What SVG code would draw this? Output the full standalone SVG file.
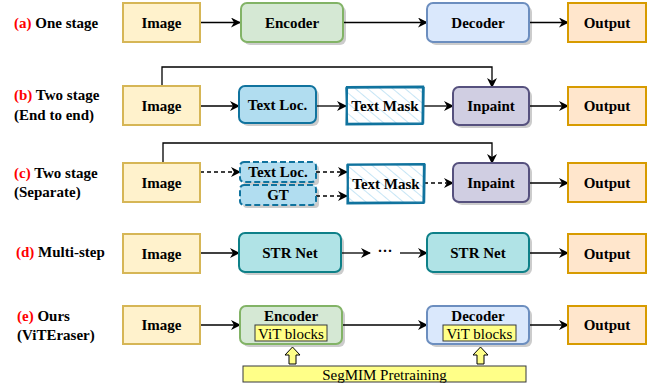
<svg xmlns="http://www.w3.org/2000/svg" width="653" height="385" viewBox="0 0 653 385">
<defs>
<marker id="arr" viewBox="0 0 10 10" refX="9" refY="5" markerWidth="10" markerHeight="10" markerUnits="userSpaceOnUse" orient="auto">
<path d="M0,0 L10,5 L0,10 L3,5 z" fill="#000"/>
</marker>
<pattern id="hatch" patternUnits="userSpaceOnUse" width="8" height="8" patternTransform="rotate(-50)">
<line x1="0" y1="0" x2="0" y2="8" stroke="#9fd3ee" stroke-width="1.2"/>
</pattern>
</defs>
<style>
.t{font-family:"Liberation Serif","Times New Roman",serif;font-size:15px;font-weight:bold;fill:#000;text-anchor:middle}
.n{font-family:"Liberation Serif","Times New Roman",serif;font-size:15px;fill:#000;text-anchor:middle}
.l{font-family:"Liberation Serif","Times New Roman",serif;font-size:15px;font-weight:bold;fill:#000}
.r{fill:#ff0000}
.sh{fill:#000;opacity:0.2}
.img{fill:#fff2cc;stroke:#d6b656;stroke-width:2}
.out{fill:#ffe6cc;stroke:#d79b00;stroke-width:2}
.enc{fill:#d5e8d4;stroke:#82b366;stroke-width:2}
.dec{fill:#dae8fc;stroke:#6c8ebf;stroke-width:2}
.loc{fill:#b1ddf0;stroke:#10739e;stroke-width:2}
.inp{fill:#d0cee2;stroke:#56517e;stroke-width:2}
.str{fill:#b0e3e6;stroke:#0e8088;stroke-width:2}
.vit{fill:#ffff88;stroke:#36393d;stroke-width:1}
.c{fill:none;stroke:#000;stroke-width:1.3;marker-end:url(#arr)}
.cn{fill:none;stroke:#000;stroke-width:1.3}
.d{stroke-dasharray:4 3}
</style>

<g id="labels">
<text class="l" x="14" y="28"><tspan class="r">(a)</tspan> One stage</text>
<text class="l" x="14" y="100"><tspan class="r">(b)</tspan> Two stage</text>
<text class="l" x="14" y="120">(End to end)</text>
<text class="l" x="14" y="178"><tspan class="r">(c)</tspan> Two stage</text>
<text class="l" x="14" y="197">(Separate)</text>
<text class="l" x="16" y="257"><tspan class="r">(d)</tspan> Multi-step</text>
<text class="l" x="17" y="321"><tspan class="r">(e)</tspan> Ours</text>
<text class="l" x="17" y="340">(ViTEraser)</text>
</g>

<g id="connectors">
<path class="c" d="M200,22.5 H240"/>
<path class="c" d="M343,22.5 H427"/>
<path class="c" d="M529,22.5 H568"/>
<path class="c" d="M200,106 H239"/>
<path class="c" d="M316,106 H346"/>
<path class="c" d="M423,106 H453"/>
<path class="c" d="M529,106 H568"/>
<path class="c" d="M162,86 V67 H492 V87"/>
<path class="c" d="M163,163 V143 H492 V163"/>
<path class="c d" d="M200,172 H240"/>
<path class="c d" d="M316,172 H347"/>
<path class="c d" d="M316,196 H347"/>
<path class="c d" d="M424,183 H453"/>
<path class="c" d="M529,183 H568"/>
<path class="c" d="M200,253 H239"/>
<path class="c" d="M342,253 H370"/>
<path class="c" d="M400,253 H427"/>
<path class="c" d="M529,253 H568"/>
<path class="c" d="M200,325 H240"/>
<path class="c" d="M342,325 H427"/>
<path class="c" d="M529,325 H568"/>
</g>
<text class="t" x="385" y="256">···</text>

<!-- row a -->
<g id="a-image"><rect class="img" x="123" y="3" width="77" height="39"/><text class="t" x="161.5" y="27.5">Image</text></g>
<g id="a-encoder"><rect class="sh" x="244" y="6" width="102" height="39" rx="6"/><rect class="enc" x="241" y="3" width="102" height="39" rx="6"/><text class="t" x="292" y="27.5">Encoder</text></g>
<g id="a-decoder"><rect class="sh" x="430" y="6" width="102" height="39" rx="6"/><rect class="dec" x="427" y="3" width="102" height="39" rx="6"/><text class="t" x="478" y="27.5">Decoder</text></g>
<g id="a-output"><rect class="out" x="568" y="3" width="78" height="39"/><text class="t" x="607" y="27.5">Output</text></g>

<!-- row b -->
<g id="b-image"><rect class="img" x="123" y="86" width="77" height="39"/><text class="t" x="161.5" y="111">Image</text></g>
<g id="b-textloc"><rect class="sh" x="242" y="89" width="77" height="37" rx="6"/><rect class="loc" x="239" y="86" width="77" height="37" rx="6"/><text class="t" x="277.5" y="110">Text Loc.</text></g>
<g id="b-textmask"><rect fill="url(#hatch)" x="347" y="87" width="76" height="37"/><path d="M347,87 L423,86.5 L422.5,124 L346.5,124.5 Z" fill="none" stroke="#10739e" stroke-width="2.2"/><path d="M346,88 L424,87.5 L423.5,123 L347.5,123.5 Z" fill="none" stroke="#10739e" stroke-width="1.5"/><text class="t" x="385" y="111">Text Mask</text></g>
<g id="b-inpaint"><rect class="sh" x="456" y="90" width="76" height="38" rx="6"/><rect class="inp" x="453" y="87" width="76" height="38" rx="6"/><text class="t" x="491" y="111">Inpaint</text></g>
<g id="b-output"><rect class="out" x="568" y="87" width="78" height="38"/><text class="t" x="607" y="111">Output</text></g>

<!-- row c -->
<g id="c-image"><rect class="img" x="123" y="163" width="77" height="39"/><text class="t" x="161.5" y="188">Image</text></g>
<g id="c-textloc"><rect class="sh" x="243" y="165" width="76" height="20" rx="4"/><rect class="loc d" x="240" y="162" width="76" height="20" rx="4" style="stroke-dasharray:6 3"/><text class="t" x="278" y="177">Text Loc.</text></g>
<g id="c-gt"><rect class="sh" x="243" y="188" width="76" height="20" rx="4"/><rect class="loc" x="240" y="185" width="76" height="20" rx="4" style="stroke-dasharray:6 3"/><text class="t" x="278" y="200">GT</text></g>
<g id="c-textmask"><rect fill="url(#hatch)" x="348" y="164" width="76" height="39"/><path d="M348,164.5 L424,164 L423.5,203 L347.5,203.5 Z" fill="none" stroke="#10739e" stroke-width="2.2"/><path d="M347,165 L425,164.5 L424.5,202 L348.5,202.5 Z" fill="none" stroke="#10739e" stroke-width="1.5"/><text class="t" x="386" y="189">Text Mask</text></g>
<g id="c-inpaint"><rect class="sh" x="456" y="166" width="76" height="39" rx="6"/><rect class="inp" x="453" y="163" width="76" height="39" rx="6"/><text class="t" x="491" y="188">Inpaint</text></g>
<g id="c-output"><rect class="out" x="568" y="163" width="78" height="39"/><text class="t" x="607" y="188">Output</text></g>

<!-- row d -->
<g id="d-image"><rect class="img" x="123" y="234" width="77" height="39"/><text class="t" x="161.5" y="258.5">Image</text></g>
<g id="d-str1"><rect class="sh" x="242" y="236" width="102" height="39" rx="6"/><rect class="str" x="239" y="233" width="102" height="39" rx="6"/><text class="t" x="290" y="258">STR Net</text></g>
<g id="d-str2"><rect class="sh" x="430" y="236" width="102" height="39" rx="6"/><rect class="str" x="427" y="233" width="102" height="39" rx="6"/><text class="t" x="478" y="258">STR Net</text></g>
<g id="d-output"><rect class="out" x="568" y="234" width="78" height="39"/><text class="t" x="607" y="258.5">Output</text></g>

<!-- row e -->
<g id="e-image"><rect class="img" x="123" y="306" width="77" height="38"/><text class="t" x="161.5" y="330">Image</text></g>
<g id="e-encoder"><rect class="sh" x="243" y="309" width="102" height="38" rx="6"/><rect class="enc" x="240" y="306" width="102" height="38" rx="6"/><text class="t" x="291" y="321">Encoder</text><rect class="vit" x="255" y="325" width="72" height="16"/><text class="n" x="291" y="338.5">ViT blocks</text></g>
<g id="e-decoder"><rect class="sh" x="430" y="309" width="102" height="38" rx="6"/><rect class="dec" x="427" y="306" width="102" height="38" rx="6"/><text class="t" x="478" y="321">Decoder</text><rect class="vit" x="443" y="325" width="73" height="16"/><text class="n" x="479.5" y="338.5">ViT blocks</text></g>
<g id="e-output"><rect class="out" x="568" y="306" width="78" height="38"/><text class="t" x="607" y="330">Output</text></g>
<g id="e-arrow1"><path d="M292.5,347 L300,355 L296,355 L296,364 L289,364 L289,355 L285,355 Z" fill="#ffff88" stroke="#000" stroke-width="1"/></g>
<g id="e-arrow2"><path d="M480.5,347 L488,355 L484,355 L484,364 L477,364 L477,355 L473,355 Z" fill="#ffff88" stroke="#000" stroke-width="1"/></g>
<g id="e-segmim"><rect class="vit" x="243" y="366" width="283" height="16"/><text class="n" x="384.5" y="379.5">SegMIM Pretraining</text></g>
</svg>
